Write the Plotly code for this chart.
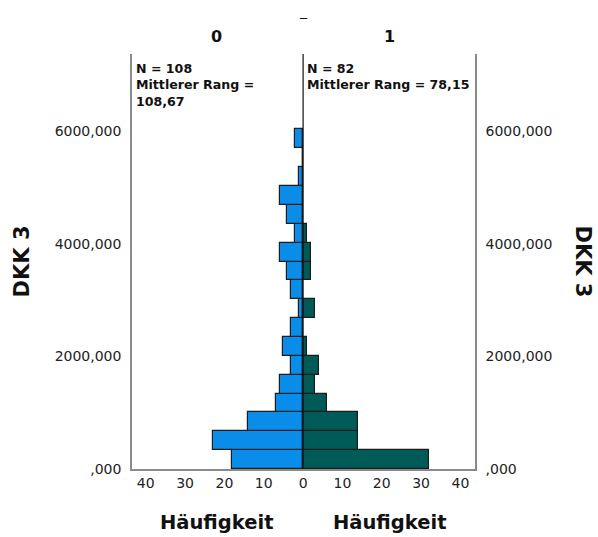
import plotly.graph_objects as go

# ---- data ----
bin_width = 335.0  # bin width in DKK 3 units
# counts per bin, bottom (0) to top (17)
counts_0 = [18, 23, 14, 7, 6, 3, 5, 3, 1, 3, 4, 6, 2, 4, 6, 1, 0, 2]
counts_1 = [32, 14, 14, 6, 3, 4, 1, 0, 3, 0, 2, 2, 1, 0, 0, 0, 0, 0]
group_labels = ["0", "1"]
stats_0 = "N = 108<br>Mittlerer Rang =<br>108,67"
stats_1 = "N = 82<br>Mittlerer Rang = 78,15"
y_tickvals = [0, 2000, 4000, 6000]
y_ticktext = [",000", "2000,000", "4000,000", "6000,000"]
x_tickvals = [-40, -30, -20, -10, 0, 10, 20, 30, 40]
x_ticktext = ["40", "30", "20", "10", "0", "10", "20", "30", "40"]

centers = [bin_width * (i + 0.5) for i in range(len(counts_0))]

BLUE = "#0A8DE8"
TEAL = "#005B58"
EDGE = "#1c1c1c"
FONT = "DejaVu Sans"

fig = go.Figure()
fig.add_trace(go.Bar(
    y=centers, x=[-c for c in counts_0], orientation="h", width=bin_width,
    marker=dict(color=BLUE, line=dict(color=EDGE, width=1.2)),
    hoverinfo="skip", showlegend=False))
fig.add_trace(go.Bar(
    y=centers, x=counts_1, orientation="h", width=bin_width,
    marker=dict(color=TEAL, line=dict(color=EDGE, width=1.2)),
    hoverinfo="skip", showlegend=False))

yr = [0, 7370]
fig.update_layout(
    width=598, height=537,
    margin=dict(l=132, r=123, t=54, b=68),
    paper_bgcolor="white", plot_bgcolor="white",
    barmode="overlay", bargap=0,
    font=dict(family=FONT, color="#222"),
    xaxis=dict(range=[-43.5, 43.7], tickvals=x_tickvals, ticktext=x_ticktext,
               showgrid=False, zeroline=False, showline=True, linecolor="#8a8a8a",
               linewidth=1.5, ticks="", tickfont=dict(size=14, color="#222"),
               fixedrange=True),
    yaxis=dict(range=yr, tickvals=y_tickvals, ticktext=y_ticktext,
               showgrid=False, zeroline=False, showline=True, linecolor="#8a8a8a",
               linewidth=1.5, ticks="", ticklabelstandoff=6,
               tickfont=dict(size=14, color="#222"), fixedrange=True),
    yaxis2=dict(range=yr, tickvals=y_tickvals, ticktext=y_ticktext, overlaying="y",
                side="right", showgrid=False, zeroline=False, showline=True,
                linecolor="#8a8a8a", linewidth=1.5, ticks="", ticklabelstandoff=6,
                tickfont=dict(size=14, color="#222"), fixedrange=True),
)
# invisible trace to activate yaxis2
fig.add_trace(go.Scatter(x=[None], y=[None], yaxis="y2", showlegend=False, hoverinfo="skip"))

# center line
fig.add_shape(type="line", xref="x", yref="paper", x0=0, x1=0, y0=0, y1=1,
              line=dict(color="#111", width=1.2))

annotations = [
    dict(text="_", xref="x", yref="paper", x=0, y=1.104, showarrow=False,
         font=dict(size=14, color="#111"), yanchor="middle"),
    dict(text="<b>%s</b>" % group_labels[0], xref="x", yref="paper", x=-22, y=1.041,
         showarrow=False, font=dict(size=16, color="#111"), yanchor="middle"),
    dict(text="<b>%s</b>" % group_labels[1], xref="x", yref="paper", x=22, y=1.041,
         showarrow=False, font=dict(size=16, color="#111"), yanchor="middle"),
    dict(text="<b>%s</b>" % stats_0, xref="x", yref="paper", x=-43.0, y=0.988,
         xanchor="left", yanchor="top", align="left", showarrow=False,
         font=dict(size=12.6, color="#111")),
    dict(text="<b>%s</b>" % stats_1, xref="x", yref="paper", x=0.5, y=0.988,
         xanchor="left", yanchor="top", align="left", showarrow=False,
         font=dict(size=12.6, color="#111")),
    dict(text="<b>Häufigkeit</b>", xref="x", yref="paper", x=-22, y=-0.128,
         yanchor="middle", showarrow=False, font=dict(size=19.5, color="#111")),
    dict(text="<b>Häufigkeit</b>", xref="x", yref="paper", x=22, y=-0.128,
         yanchor="middle", showarrow=False, font=dict(size=19.5, color="#111")),
    dict(text="<b>DKK 3</b>", xref="paper", yref="paper", x=-0.321, y=0.5,
         xanchor="center", yanchor="middle",
         textangle=-90, showarrow=False, font=dict(size=21, color="#111")),
    dict(text="<b>DKK 3</b>", xref="paper", yref="paper", x=1.315, y=0.5,
         xanchor="center", yanchor="middle",
         textangle=90, showarrow=False, font=dict(size=21, color="#111")),
]
fig.update_layout(annotations=annotations)

fig.write_html("out.html")
